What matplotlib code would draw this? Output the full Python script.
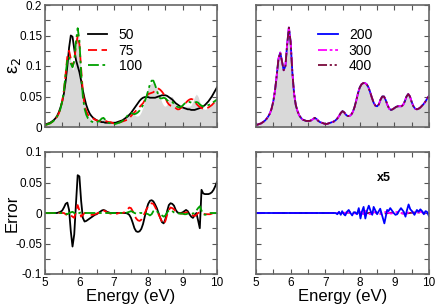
import matplotlib
matplotlib.use('Agg')
import matplotlib.pyplot as plt
from matplotlib.ticker import MultipleLocator
import numpy as np

plt.rcParams['font.family'] = ['Liberation Sans', 'DejaVu Sans']

# Energy grid (eV), 0.05 eV steps from 5 to 10
energia = np.round(np.arange(5.0, 10.0001, 0.05), 2)

# Reference spectrum (grey fill)
ref = [0.003, 0.004, 0.005, 0.006, 0.008, 0.010, 0.013, 0.017, 0.022, 0.030,
       0.042, 0.060, 0.085, 0.112, 0.122, 0.108, 0.093, 0.100, 0.135, 0.163,
       0.140, 0.090, 0.055, 0.036, 0.026, 0.019, 0.015, 0.012, 0.011, 0.010,
       0.010, 0.010, 0.011, 0.013, 0.015, 0.013, 0.010, 0.008, 0.007, 0.006,
       0.005, 0.005, 0.006, 0.007, 0.008, 0.009, 0.011, 0.014, 0.018, 0.023,
       0.026, 0.024, 0.020, 0.018, 0.018, 0.020, 0.025, 0.033, 0.044, 0.056,
       0.065, 0.070, 0.072, 0.072, 0.070, 0.065, 0.057, 0.048, 0.040, 0.035,
       0.034, 0.037, 0.045, 0.050, 0.050, 0.044, 0.036, 0.030, 0.028, 0.029,
       0.031, 0.033, 0.034, 0.034, 0.034, 0.036, 0.042, 0.050, 0.054, 0.050,
       0.041, 0.034, 0.030, 0.029, 0.030, 0.032, 0.035, 0.038, 0.042, 0.047,
       0.051]

# Approximations with 50, 75, 100 terms
eps_50 = [0.004, 0.005, 0.006, 0.007, 0.009, 0.011, 0.014, 0.018, 0.024, 0.032,
          0.042, 0.055, 0.075, 0.100, 0.130, 0.150, 0.148, 0.128, 0.110, 0.100,
          0.090, 0.076, 0.060, 0.047, 0.036, 0.028, 0.022, 0.018, 0.015, 0.013,
          0.011, 0.010, 0.009, 0.008, 0.008, 0.007, 0.007, 0.007, 0.007, 0.007,
          0.007, 0.007, 0.008, 0.009, 0.010, 0.011, 0.013, 0.015, 0.017, 0.020,
          0.023, 0.027, 0.031, 0.035, 0.039, 0.043, 0.046, 0.048, 0.049, 0.049,
          0.049, 0.048, 0.048, 0.048, 0.048, 0.049, 0.050, 0.051, 0.052, 0.052,
          0.052, 0.051, 0.049, 0.047, 0.045, 0.042, 0.039, 0.037, 0.035, 0.033,
          0.032, 0.031, 0.030, 0.029, 0.029, 0.028, 0.028, 0.028, 0.029, 0.030,
          0.031, 0.032, 0.034, 0.036, 0.039, 0.042, 0.046, 0.050, 0.055, 0.060,
          0.065]

eps_75 = [0.003, 0.004, 0.005, 0.006, 0.008, 0.010, 0.013, 0.017, 0.022, 0.030,
          0.042, 0.060, 0.087, 0.116, 0.125, 0.112, 0.099, 0.108, 0.133, 0.150,
          0.136, 0.096, 0.058, 0.036, 0.026, 0.020, 0.017, 0.015, 0.014, 0.012,
          0.011, 0.010, 0.010, 0.010, 0.011, 0.010, 0.009, 0.008, 0.008, 0.007,
          0.006, 0.006, 0.007, 0.007, 0.008, 0.009, 0.010, 0.011, 0.012, 0.014,
          0.018, 0.021, 0.024, 0.027, 0.030, 0.033, 0.036, 0.039, 0.044, 0.050,
          0.054, 0.055, 0.056, 0.057, 0.060, 0.062, 0.063, 0.061, 0.058, 0.054,
          0.048, 0.041, 0.037, 0.035, 0.034, 0.033, 0.031, 0.029, 0.029, 0.031,
          0.034, 0.037, 0.040, 0.043, 0.045, 0.046, 0.045, 0.042, 0.038, 0.035,
          0.033, 0.031, 0.030, 0.030, 0.031, 0.032, 0.034, 0.036, 0.039, 0.042,
          0.046]

eps_100 = [0.003, 0.004, 0.005, 0.006, 0.008, 0.010, 0.013, 0.017, 0.022, 0.030,
           0.042, 0.060, 0.087, 0.110, 0.115, 0.104, 0.098, 0.108, 0.140, 0.162,
           0.142, 0.088, 0.050, 0.030, 0.020, 0.014, 0.011, 0.009, 0.008, 0.008,
           0.008, 0.009, 0.011, 0.014, 0.015, 0.012, 0.009, 0.007, 0.006, 0.005,
           0.005, 0.005, 0.006, 0.007, 0.008, 0.010, 0.012, 0.015, 0.019, 0.022,
           0.023, 0.022, 0.021, 0.022, 0.024, 0.027, 0.031, 0.036, 0.042, 0.050,
           0.060, 0.070, 0.076, 0.076, 0.069, 0.060, 0.051, 0.047, 0.047, 0.048,
           0.047, 0.044, 0.042, 0.042, 0.041, 0.038, 0.035, 0.033, 0.032, 0.033,
           0.035, 0.038, 0.040, 0.041, 0.041, 0.040, 0.039, 0.040, 0.041, 0.040,
           0.037, 0.035, 0.034, 0.034, 0.035, 0.036, 0.037, 0.039, 0.041, 0.043,
           0.045]

# Errors (lower left)
err_50 = [0.000, 0.000, 0.000, 0.000, 0.000, 0.000, 0.000, 0.000, 0.001, 0.002,
          0.004, 0.009, 0.015, 0.017, 0.005, -0.030, -0.055, -0.035, 0.015, 0.062,
          0.060, 0.020, -0.008, -0.014, -0.013, -0.011, -0.009, -0.007, -0.005, -0.003,
          -0.002, 0.000, 0.002, 0.004, 0.005, 0.004, 0.002, 0.001, 0.000, 0.000,
          0.000, 0.000, 0.000, 0.000, 0.000, 0.000, 0.000, 0.000, -0.001, -0.003,
          -0.008, -0.016, -0.025, -0.030, -0.031, -0.030, -0.026, -0.018, -0.006, 0.006,
          0.015, 0.020, 0.021, 0.019, 0.014, 0.008, 0.000, -0.008, -0.015, -0.017,
          -0.010, 0.003, 0.013, 0.016, 0.015, 0.012, 0.005, 0.001, 0.000, 0.000,
          0.001, 0.003, 0.005, 0.003, -0.002, -0.006, -0.008, -0.004, 0.000, -0.012,
          -0.025, 0.038, 0.032, 0.031, 0.031, 0.031, 0.032, 0.034, 0.038, 0.044,
          0.051]

err_75 = [0.000, 0.000, 0.000, 0.000, 0.000, 0.000, 0.000, 0.000, 0.000, 0.000,
          0.000, 0.000, -0.002, -0.004, -0.003, -0.004, -0.006, -0.008, 0.002, 0.013,
          0.004, -0.006, -0.003, 0.000, 0.000, -0.001, -0.002, -0.003, -0.003, -0.002,
          -0.001, 0.000, 0.001, 0.003, 0.004, 0.003, 0.001, 0.000, -0.001, -0.001,
          -0.001, -0.001, -0.001, 0.000, 0.000, 0.000, 0.001, 0.003, 0.006, 0.009,
          0.008, 0.003, -0.004, -0.009, -0.012, -0.013, -0.011, -0.006, 0.000, 0.006,
          0.011, 0.015, 0.016, 0.015, 0.010, 0.004, -0.002, -0.008, -0.014, -0.018,
          -0.013, -0.003, 0.005, 0.009, 0.008, 0.006, 0.003, 0.001, 0.000, -0.001,
          -0.001, 0.000, 0.001, 0.001, 0.000, -0.002, -0.004, -0.005, -0.003, 0.000,
          0.001, 0.000, -0.001, -0.002, -0.002, -0.002, -0.002, -0.001, -0.001, 0.000,
          0.000]

err_100 = [0.000, 0.000, 0.000, 0.000, 0.000, 0.000, 0.000, 0.000, 0.000, 0.000,
           0.000, 0.000, -0.001, -0.002, 0.000, 0.001, 0.002, 0.000, -0.002, -0.001,
           0.000, 0.001, 0.000, 0.000, 0.000, 0.000, 0.000, 0.000, 0.000, 0.000,
           0.000, 0.000, 0.000, 0.000, 0.000, 0.000, 0.000, 0.000, 0.000, 0.000,
           0.000, 0.000, 0.000, 0.000, 0.000, 0.000, 0.000, 0.000, 0.001, 0.002,
           0.003, 0.002, 0.000, -0.001, -0.001, 0.000, 0.000, 0.000, 0.000, -0.001,
           -0.002, -0.004, -0.002, 0.003, 0.005, 0.003, 0.000, -0.002, -0.004, -0.006,
           -0.004, 0.001, 0.004, 0.005, 0.003, 0.001, 0.000, 0.000, -0.001, -0.001,
           -0.001, -0.002, -0.002, -0.001, 0.000, 0.000, -0.001, 0.000, 0.004, 0.008,
           0.011, 0.004, -0.002, -0.003, -0.002, -0.001, 0.000, 0.000, 0.000, 0.000,
           0.000]

# Errors (lower right, multiplied by 5)
err_200_x = [5.0, 7.30, 7.35, 7.40, 7.45, 7.49, 7.54, 7.58, 7.63, 7.68, 7.73, 7.78,
             7.82, 7.87, 7.92, 7.97, 8.02, 8.06, 8.11, 8.16, 8.21, 8.26, 8.32, 8.36,
             8.40, 8.45, 8.50, 8.55, 8.59, 8.65, 8.71, 8.79, 8.83, 8.88, 8.93, 8.98,
             9.03, 9.08, 9.13, 9.19, 9.27, 9.32, 9.36, 9.41, 9.46, 9.51, 9.58, 9.65,
             9.70, 9.75, 9.80, 9.85, 9.90, 9.94, 10.0]
err_200_y = [0.000, 0.000, -0.002, 0.002, -0.003, 0.003, -0.002, -0.004, 0.002, 0.005,
             0.000, -0.004, 0.001, 0.001, -0.002, 0.008, -0.009, 0.002, 0.010, -0.009,
             0.004, 0.012, 0.002, -0.003, 0.010, 0.004, -0.002, 0.003, 0.007, -0.005,
             -0.017, 0.005, 0.003, 0.008, 0.004, 0.000, -0.003, -0.002, 0.003, 0.008,
             0.002, -0.006, 0.004, 0.014, 0.006, 0.003, -0.003, 0.005, 0.002, 0.006,
             0.003, -0.002, 0.003, 0.002, -0.005]
err_300_x = [5.0, 7.50, 7.70, 7.90, 8.00, 8.10, 8.15, 8.20, 8.30, 8.45, 8.60, 8.75,
             8.90, 9.10, 9.30, 9.45, 9.60, 9.75, 9.90, 10.0]
err_300_y = [0.000, 0.000, 0.001, -0.001, 0.002, -0.002, 0.006, 0.000, -0.002, 0.002,
             -0.002, 0.002, -0.001, 0.002, -0.002, 0.002, 0.000, 0.002, -0.001, 0.000]
err_400_x = [5.0, 7.50, 7.80, 8.10, 8.40, 8.70, 9.00, 9.30, 9.60, 10.0]
err_400_y = [0.000, 0.000, 0.001, -0.001, 0.001, -0.001, 0.001, -0.001, 0.001, 0.000]

etiquetas_izq = ['50', '75', '100']
etiquetas_der = ['200', '300', '400']

W, H = 436, 306
fig = plt.figure(figsize=(W / 100, H / 100), dpi=100)


def caja(x0, y0, x1, y1):
    return fig.add_axes([x0 / W, 1 - y1 / H, (x1 - x0) / W, (y1 - y0) / H])


ax_tl = caja(45, 5, 217, 127)
ax_tr = caja(256, 5, 429, 127)
ax_bl = caja(45, 152, 217, 274)
ax_br = caja(256, 152, 429, 274)

gris = '#d9d9d9'
estilos_izq = [dict(color='black', ls='-', lw=1.3),
               dict(color='red', ls=(0, (5, 2.5)), lw=1.3),
               dict(color='#00a000', ls=(0, (6, 2, 1.5, 2)), lw=1.3)]
estilos_der = [dict(color='blue', ls='-', lw=1.3),
               dict(color='magenta', ls=(0, (5, 1.5, 1.5, 1.5)), lw=1.3),
               dict(color='#7a0a3c', ls=(0, (5, 1.5, 1.2, 1.5, 1.2, 1.5)), lw=1.3)]

# Top left
ax_tl.fill_between(energia, 0, ref, color=gris, lw=0)
for serie, est, lab in zip([eps_50, eps_75, eps_100], estilos_izq, etiquetas_izq):
    ax_tl.plot(energia, serie, label=lab, **est)

# Top right
ax_tr.fill_between(energia, 0, ref, color=gris, lw=0)
for est, lab in zip(estilos_der, etiquetas_der):
    ax_tr.plot(energia, ref, label=lab, **est)

# Bottom left
for serie, est in zip([err_50, err_75, err_100], estilos_izq):
    ax_bl.plot(energia, serie, **est)

# Bottom right
ax_br.plot(err_400_x, err_400_y, **estilos_der[2])
ax_br.plot(err_300_x, err_300_y, **estilos_der[1])
ax_br.plot(err_200_x, err_200_y, **estilos_der[0])
ax_br.text(8.7, 0.057, 'x5', fontsize=9, fontweight='bold', ha='center', va='center')

for ax in [ax_tl, ax_tr]:
    ax.set_ylim(0, 0.2)
    ax.yaxis.set_major_locator(MultipleLocator(0.05))
    ax.yaxis.set_minor_locator(MultipleLocator(0.025))
    ax.tick_params(labelbottom=False)
for ax in [ax_bl, ax_br]:
    ax.set_ylim(-0.1, 0.1)
    ax.yaxis.set_major_locator(MultipleLocator(0.05))
    ax.yaxis.set_minor_locator(MultipleLocator(0.025))
    ax.set_xlabel('Energy (eV)', fontsize=12, labelpad=0)

for ax in [ax_tl, ax_tr, ax_bl, ax_br]:
    ax.set_xlim(5, 10)
    ax.xaxis.set_major_locator(MultipleLocator(1))
    ax.xaxis.set_minor_locator(MultipleLocator(0.5))
    ax.tick_params(which='both', direction='in', top=True, right=True,
                   labelsize=8.5, color='#555555', pad=2)
    ax.tick_params(which='major', length=3.5, width=0.8)
    ax.tick_params(which='minor', length=3.5, width=0.8)
    for sp in ax.spines.values():
        sp.set_color('#666666')
        sp.set_linewidth(1.2)

for ax in [ax_tr, ax_br]:
    ax.tick_params(labelleft=False)

ax_tl.set_yticks([0, 0.05, 0.1, 0.15, 0.2])
ax_tl.set_yticklabels(['0', '0.05', '0.1', '0.15', '0.2'])
ax_bl.set_yticks([-0.1, -0.05, 0, 0.05, 0.1])
ax_bl.set_yticklabels(['-0.1', '-0.05', '0', '0.05', '0.1'])
ax_bl.set_xticks([5, 6, 7, 8, 9, 10])
ax_br.set_xticks([5, 6, 7, 8, 9, 10])

ax_tl.set_ylabel('ε$_2$', fontsize=13)
ax_tl.yaxis.set_label_coords(-0.13, 0.5)
ax_bl.set_ylabel('Error', fontsize=12)
ax_bl.yaxis.set_label_coords(-0.15, 0.5)

ax_tl.legend(loc='upper left', bbox_to_anchor=(0.25, 0.81), frameon=False,
             fontsize=10, handlelength=1.4, handletextpad=0.8, labelspacing=0.1,
             borderpad=0, borderaxespad=0)
ax_tr.legend(loc='upper left', bbox_to_anchor=(0.36, 0.81), frameon=False,
             fontsize=10, handlelength=1.4, handletextpad=0.8, labelspacing=0.1,
             borderpad=0, borderaxespad=0)

fig.savefig('out.png', dpi=100)
